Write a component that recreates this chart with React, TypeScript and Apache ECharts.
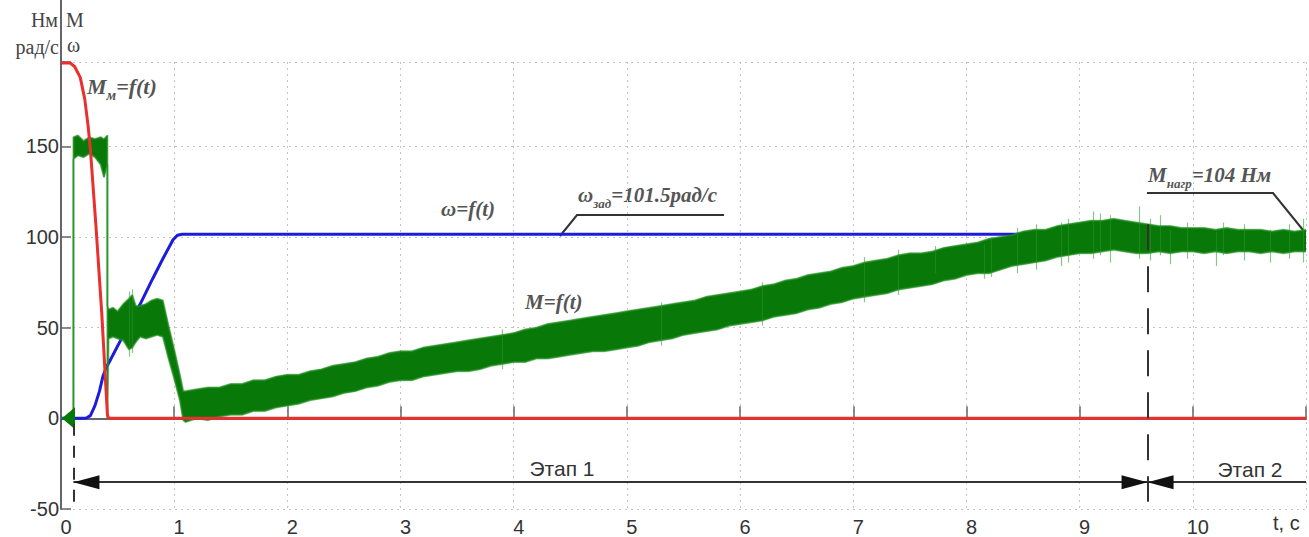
import React, { useEffect, useRef } from "react";
import * as echarts from "echarts";

// Axis ticks
const X_TICKS = [0, 1, 2, 3, 4, 5, 6, 7, 8, 9, 10];
const Y_TICKS = [-50, 0, 50, 100, 150];

// Motor torque Mм = f(t)
const redT = [0, 0.08, 0.12, 0.17, 0.21, 0.24, 0.26, 0.31, 0.36, 0.41, 0.42, 11];
const redV = [196, 196, 194, 188, 176, 161, 148, 105, 58, 2, 0, 0];

// Angular speed ω = f(t)
const blueT = [0, 0.22, 0.26, 0.3, 0.34, 0.37, 0.4, 0.43, 0.56, 0.7, 0.81, 0.9, 0.99, 1.03, 1.07, 1.1, 11];
const blueV = [0, 0, 1.5, 7, 15, 23, 28, 31.5, 47, 63, 77, 88, 98.5, 101, 101.5, 101.5, 101.5];

// Load torque M = f(t): lower and upper envelope of the oscillating signal
const loadT = [
  0, 0.11, 0.11, 0.15, 0.2, 0.25, 0.3, 0.35, 0.38, 0.41, 0.41, 0.42, 0.46, 0.5, 0.55, 0.6, 0.63, 0.66, 0.7,
  0.75, 0.8, 0.85, 0.9, 0.95, 1.0, 1.05, 1.08,
  1.1, 1.2, 1.3, 1.4, 1.5, 1.6, 1.7, 1.8, 1.9, 2.0, 2.1, 2.2, 2.3, 2.4, 2.5, 2.6, 2.7, 2.8, 2.9, 3.0,
  3.1, 3.2, 3.3, 3.4, 3.5, 3.6, 3.7, 3.8, 3.9, 4.0, 4.1, 4.2, 4.3, 4.4, 4.5, 4.6, 4.7, 4.8, 4.9, 5.0,
  5.1, 5.2, 5.3, 5.4, 5.5, 5.6, 5.7, 5.8, 5.9, 6.0, 6.1, 6.2, 6.3, 6.4, 6.5, 6.6, 6.7, 6.8, 6.9, 7.0,
  7.1, 7.2, 7.3, 7.4, 7.5, 7.6, 7.7, 7.8, 7.9, 8.0, 8.1, 8.2, 8.3, 8.4, 8.5, 8.6, 8.7, 8.8, 8.9, 9.0,
  9.1, 9.2, 9.3, 9.4, 9.5, 9.6, 9.7, 9.8, 9.9, 10.0, 10.1, 10.2, 10.3, 10.4, 10.5, 10.6, 10.7, 10.8, 10.9, 11.0,
];
const loadLow = [
  0, 0, 143, 145, 144, 146, 144, 140, 133, 140, 0, 44, 45, 44, 43, 38, 39, 42, 45,
  44, 45, 46, 45, 33, 22, 10, -1,
  -2, 0, -1, 1, 2, 2, 4, 4, 6, 7, 8, 10, 11, 12, 14, 15, 17, 18, 20, 21,
  21, 23, 24, 25, 26, 26, 27, 29, 30, 31, 31, 33, 33, 34, 35, 36, 37, 37, 38, 39,
  40, 42, 43, 44, 46, 47, 48, 49, 51, 52, 53, 54, 56, 57, 58, 60, 61, 63, 64, 66,
  67, 68, 69, 71, 72, 73, 74, 76, 77, 79, 80, 80, 82, 84, 85, 86, 87, 89, 90, 91,
  91, 92, 93, 92, 91, 91, 92, 91, 92, 92, 91, 92, 91, 92, 92, 91, 92, 91, 92, 92,
];
const loadHigh = [
  0, 0, 155, 156, 153, 155, 154, 155, 154, 156, 62, 60, 61, 59, 63, 66, 68, 62, 62,
  63, 65, 66, 65, 51, 38, 24, 15,
  15, 16, 17, 17, 19, 19, 21, 21, 23, 24, 24, 26, 27, 29, 30, 31, 33, 34, 36, 37,
  37, 39, 40, 41, 42, 43, 44, 45, 46, 47, 49, 50, 52, 53, 54, 55, 56, 57, 58, 59,
  60, 61, 62, 63, 64, 65, 67, 68, 69, 70, 71, 73, 74, 76, 77, 79, 80, 81, 83, 84,
  86, 87, 88, 90, 91, 91, 92, 94, 95, 96, 97, 99, 100, 101, 103, 104, 104, 106, 107, 108,
  109, 109, 110, 109, 108, 107, 106, 106, 105, 105, 105, 104, 105, 104, 104, 104, 103, 104, 103, 104,
];

// Isolated oscillation peaks of M = f(t)
const spikeT = [0.6, 0.63, 3.9, 5.3, 6.2, 7.1, 7.4, 7.72, 8.16, 8.22, 8.45, 8.62, 8.84, 8.9, 9.12, 9.18, 9.27, 9.53, 9.62, 9.71, 9.8, 9.95, 10.21, 10.27, 10.45, 10.68, 10.85, 10.98];
const spikeLow = [34, 36, 27, 40, 51, 64, 68, 80, 77, 78, 80, 82, 84, 86, 88, 90, 86, 88, 87, 90, 85, 88, 84, 90, 87, 86, 88, 86];
const spikeHigh = [70, 71, 49, 64, 75, 89, 93, 95, 96, 99, 105, 107, 108, 110, 114, 113, 112, 117, 110, 112, 104, 108, 103, 108, 107, 104, 107, 110];

// Stage boundaries
const stageStart = 0.11;
const stageSplit = 9.6;
const stageEnd = 11;
const stageLevel = -35.2;
const splitTop = 107;
const guideBottom = -46;

const GREEN = "#087808";
const GREEN_EDGE = "rgba(40,150,40,0.55)";
const SANS = "'Liberation Sans', Arial, sans-serif";
const SERIF = "'Liberation Serif', 'Times New Roman', serif";

// arrowheads: tip at the anchor point
const ARROW_LEFT = "path://M0,7 L26,0 L26,14 Z";
const ARROW_RIGHT = "path://M26,7 L0,0 L0,14 Z";

const ann = (size: number) => ({
  m: { fontFamily: SERIF, fontStyle: "italic", fontWeight: "bold", fontSize: size, fill: "#555", verticalAlign: "bottom", padding: [0, 0, 5, 0] },
  s: { fontFamily: SERIF, fontStyle: "italic", fontWeight: "bold", fontSize: Math.round(size * 0.62), fill: "#555", verticalAlign: "bottom" },
});

export default function App() {
  const ref = useRef<HTMLDivElement>(null);

  useEffect(() => {
    document.body.style.margin = "0";
    const chart = echarts.init(ref.current!, undefined, { renderer: "svg" });

    const option: any = {
      animation: false,
      backgroundColor: "#ffffff",
      grid: { left: 61, right: 3, top: 62, bottom: 26 },
      xAxis: {
        type: "value",
        min: 0,
        max: 11,
        interval: 1,
        axisLine: { lineStyle: { color: "#666", width: 2 } },
        axisTick: { inside: true, length: 12, lineStyle: { color: "#666", width: 1.5 } },
        axisLabel: {
          margin: 8,
          padding: [0, 0, 0, 10],
          fontFamily: SANS,
          fontSize: 20,
          color: "#333",
          formatter: (v: number) => (X_TICKS.includes(v) ? String(v) : ""),
        },
        splitLine: { show: true, lineStyle: { color: "#c4c4c4", width: 1, type: [2, 4] } },
      },
      yAxis: {
        type: "value",
        min: -50,
        max: 196.5,
        interval: 50,
        axisLine: { show: true, lineStyle: { color: "#666", width: 2 } },
        axisTick: { show: true, inside: true, length: 10, lineStyle: { color: "#666", width: 1.5 } },
        axisLabel: {
          margin: 2,
          fontFamily: SANS,
          fontSize: 20,
          color: "#333",
          formatter: (v: number) => (Y_TICKS.includes(v) ? String(v) : ""),
        },
        splitLine: { show: true, lineStyle: { color: "#c4c4c4", width: 1, type: [2, 4] } },
      },
      series: [
        {
          name: "ω",
          type: "line",
          z: 2,
          symbol: "none",
          data: blueT.map((t, i) => [t, blueV[i]]),
          lineStyle: { color: "#1c1cdc", width: 3 },
        },
        {
          name: "M",
          type: "custom",
          z: 3,
          silent: true,
          clip: true,
          data: [[0, 0]],
          renderItem: (_params: any, api: any) => {
            const points: number[][] = [];
            for (let i = 0; i < loadT.length; i++) points.push(api.coord([loadT[i], loadHigh[i]]));
            for (let i = loadT.length - 1; i >= 0; i--) points.push(api.coord([loadT[i], loadLow[i]]));
            return { type: "polygon", shape: { points }, style: { fill: GREEN, stroke: GREEN, lineWidth: 0.6 } };
          },
        },
        {
          name: "M-low",
          type: "line",
          z: 3,
          symbol: "none",
          data: loadT.map((t, i) => [t, loadLow[i]]),
          lineStyle: { color: GREEN_EDGE, width: 2 },
          markPoint: {
            silent: true,
            symbol: "triangle",
            symbolSize: [22, 13],
            symbolRotate: 90,
            label: { show: false },
            itemStyle: { color: GREEN },
            data: [{ coord: [0.066, 0] }],
          },
        },
        {
          name: "M-high",
          type: "line",
          z: 3,
          symbol: "none",
          data: loadT.map((t, i) => [t, loadHigh[i]]),
          lineStyle: { color: GREEN_EDGE, width: 2 },
        },
        {
          name: "M-peaks",
          type: "lines",
          coordinateSystem: "cartesian2d",
          z: 3,
          silent: true,
          lineStyle: { color: GREEN_EDGE, width: 1.2, opacity: 1 },
          data: spikeT.map((t, i) => ({ coords: [[t, spikeLow[i]], [t, spikeHigh[i]]] })),
        },
        {
          name: "Mм",
          type: "line",
          z: 4,
          symbol: "none",
          data: redT.map((t, i) => [t, redV[i]]),
          lineStyle: { color: "#e8302e", width: 3 },
        },
        {
          name: "stages",
          type: "lines",
          coordinateSystem: "cartesian2d",
          z: 5,
          silent: true,
          lineStyle: { color: "#333", width: 2, opacity: 1 },
          data: [{ coords: [[stageStart, stageLevel], [stageEnd, stageLevel]] }],
        },
        {
          name: "guides",
          type: "lines",
          coordinateSystem: "cartesian2d",
          z: 5,
          silent: true,
          lineStyle: { color: "#333", width: 2, type: [26, 16], opacity: 1 },
          data: [
            { coords: [[stageSplit, splitTop], [stageSplit, guideBottom]] },
            { coords: [[stageStart, -3], [stageStart, guideBottom]], lineStyle: { type: [12, 10] } },
          ],
        },
        {
          name: "arrows",
          type: "scatter",
          z: 6,
          silent: true,
          symbolSize: [26, 14],
          itemStyle: { color: "#111", opacity: 1 },
          data: [
            { value: [stageStart, stageLevel], symbol: ARROW_LEFT, symbolOffset: ["50%", 0] },
            { value: [stageSplit, stageLevel], symbol: ARROW_RIGHT, symbolOffset: ["-50%", 0] },
            { value: [stageSplit, stageLevel], symbol: ARROW_LEFT, symbolOffset: ["50%", 0] },
          ],
        },
      ],
      graphic: [
        { type: "line", shape: { x1: 61, y1: 0, x2: 61, y2: 62 }, style: { stroke: "#666", lineWidth: 2 } },
        { type: "text", x: 58, y: 10, style: { text: "Нм", font: `20px ${SERIF}`, fill: "#444", align: "right", textAlign: "right" } },
        { type: "text", x: 59, y: 37, style: { text: "рад/с", font: `20px ${SERIF}`, fill: "#444", align: "right", textAlign: "right" } },
        { type: "text", x: 66, y: 10, style: { text: "M", font: `20px ${SERIF}`, fill: "#444" } },
        { type: "text", x: 67, y: 35, style: { text: "ω", font: `20px ${SERIF}`, fill: "#444" } },
        { type: "text", x: 87, y: 75, style: { text: "{m|M}{s|м}{m|=f(t)}", rich: ann(22) } },
        { type: "text", x: 441, y: 198, style: { text: "{m|ω=f(t)}", rich: ann(21) } },
        { type: "text", x: 578, y: 184, style: { text: "{m|ω}{s|зад}{m|=101.5рад/с}", rich: ann(21) } },
        { type: "polyline", shape: { points: [[560, 236], [577, 215], [724, 215]] }, style: { stroke: "#333", lineWidth: 2, fill: null } },
        { type: "text", x: 525, y: 291, style: { text: "{m|M=f(t)}", rich: ann(21) } },
        { type: "text", x: 1148, y: 164, style: { text: "{m|M}{s|нагр}{m|=104 Нм}", rich: ann(21) } },
        { type: "polyline", shape: { points: [[1147, 193], [1273, 193], [1303, 230]] }, style: { stroke: "#333", lineWidth: 2, fill: null } },
        { type: "text", x: 562, y: 468, style: { text: "Этап 1", font: `21px ${SANS}`, fill: "#333", align: "center", verticalAlign: "middle", textAlign: "center", textVerticalAlign: "middle" } },
        { type: "text", x: 1250, y: 469, style: { text: "Этап 2", font: `21px ${SANS}`, fill: "#333", align: "center", verticalAlign: "middle", textAlign: "center", textVerticalAlign: "middle" } },
        { type: "text", x: 1273, y: 523, style: { text: "t, c", font: `20px ${SANS}`, fill: "#333", verticalAlign: "middle", textVerticalAlign: "middle" } },
      ],
    };

    chart.setOption(option);
    return () => chart.dispose();
  }, []);

  return <div ref={ref} style={{ position: "fixed", left: 0, top: 0, width: 1309, height: 537 }} />;
}
